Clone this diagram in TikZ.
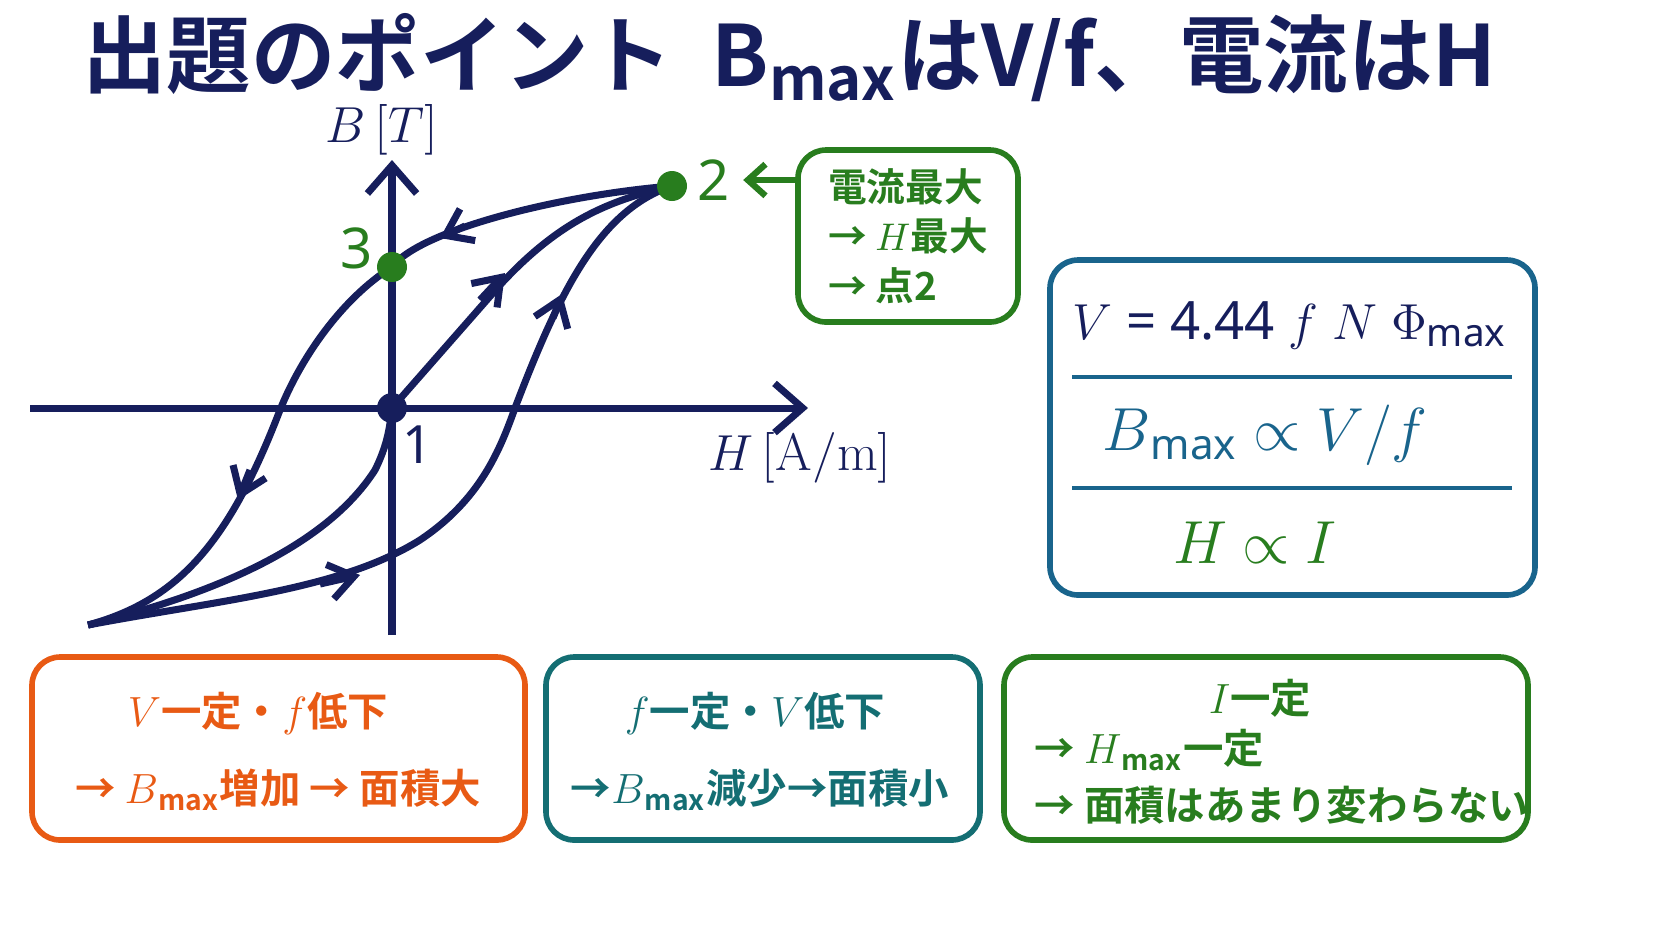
\documentclass[tikz,border=0pt]{standalone}
\usepackage{fontspec}
\newfontfamily\cjk{Noto Sans CJK JP}[BoldFont={* Bold}]
\setsansfont{Noto Sans}
\usetikzlibrary{arrows.meta,positioning,fit}
\definecolor{navy}{RGB}{22,30,92}
\definecolor{dgreen}{RGB}{40,125,30}
\definecolor{myorange}{RGB}{232,90,20}
\definecolor{myteal}{RGB}{20,110,115}
\definecolor{myblue}{RGB}{25,100,140}
\tikzset{
  curve/.style={navy, line width=2pt},
  box/.style={draw, line width=1.6pt, rounded corners=8pt, inner sep=0pt},
  tip/.style={-{Straight Barb[length=7pt,width=10pt]}, navy, line width=2pt},
  jp/.style={font=\cjk\bfseries\fontsize{11.5}{14}\selectfont, align=center},
}
\begin{document}
\begin{tikzpicture}[x=0.01cm,y=-0.01cm]
\useasboundingbox (0,0) rectangle (1672,941);
% title
\node[navy, font=\cjk\bfseries\fontsize{24}{28}\selectfont, anchor=west] (title) at (70,58)
  {出題のポイント\ \ B\textsubscript{\fontsize{17}{17}\selectfont max}はV/f、電流はH};
% axes
\coordinate (o) at (392,408);
\coordinate (xl) at (30,408);
\coordinate (xr) at (808,408);
\coordinate (yb) at (392,635);
\coordinate (yt) at (392,160);
\draw[curve, -{Straight Barb[length=8pt,width=14pt]}] (xl) -- (xr);
\draw[curve, -{Straight Barb[length=8pt,width=14pt]}] (yb) -- (yt);
\node[navy, font=\fontsize{15}{15}\selectfont] (blab) at (382,130) {$B\,[T]$};
\node[navy, font=\fontsize{15}{15}\selectfont] (hlab) at (800,458) {$H\,[\mathrm{A/m}]$};
% points
\coordinate (p2) at (672,186);
\coordinate (p3) at (392,267);
\coordinate (pb) at (88,625);
% loop
\draw[curve] (p2) .. controls (560,195) and (420,230) .. (p3)
  .. controls (340,300) and (300,360) .. (280,410)
  .. controls (230,540) and (180,600) .. (pb);
\draw[curve] (pb) .. controls (220,600) and (340,590) .. (420,540)
  .. controls (480,500) and (500,450) .. (515,408)
  .. controls (560,290) and (600,210) .. (p2);
\draw[curve] (pb) .. controls (230,590) and (330,540) .. (375,470)
  .. controls (390,440) and (390,420) .. (o)
  -- (500,285) .. controls (560,220) and (610,200) .. (p2);
% direction arrows
\draw[tip] (465,226) -- (440,238);
\draw[tip] (250,470) -- (238,500);
\draw[tip] (320,584) -- (360,575);
\draw[tip] (480,300) -- (505,273);
\draw[tip] (553,318) -- (562,294);
\fill[dgreen] (p2) circle (15);
\fill[dgreen] (p3) circle (15);
\fill[navy] (o) circle (15);
\node[dgreen, font=\sffamily\bfseries\fontsize{16}{16}\selectfont] (n2) at (714,180) {2};
\node[dgreen, font=\sffamily\bfseries\fontsize{16}{16}\selectfont] (n3) at (357,248) {3};
\node[navy, font=\sffamily\bfseries\fontsize{15}{15}\selectfont] (n1) at (418,445) {1};
% current box
\node[box, dgreen, fit={(798,150) (1018,322)}] (cbox) {};
\node[dgreen, font=\cjk\bfseries\fontsize{11}{14}\selectfont, align=left] (ctext) at (cbox.center)
  {電流最大\\ → $H$最大\\ → 点2};
\draw[dgreen, line width=1.8pt, -{Straight Barb[length=5pt,width=9pt]}] (cbox.west |- n2) -- ++(-52,0) coordinate (cend);
% formula box
\node[box, myblue, fit={(1050,260) (1535,595)}] (fbox) {};
\draw[myblue, line width=1.3pt] (1072,377) -- (1512,377);
\draw[myblue, line width=1.3pt] (1072,488) -- (1512,488);
\node[navy, font=\sffamily\bfseries\fontsize{15}{15}\selectfont] (f1) at (1290,325)
  {$V$ = 4.44 $f$ $N$ $\Phi$\textsubscript{\fontsize{11}{11}\selectfont max}};
\node[myblue, font=\sffamily\bfseries\fontsize{17}{17}\selectfont] (f2) at (1265,435)
  {$B$\textsubscript{\fontsize{12}{12}\selectfont max} $\propto$ $V/f$};
\node[dgreen, font=\sffamily\bfseries\fontsize{17}{17}\selectfont] (f3) at (1255,543)
  {$H$ $\propto$ $I$};
% bottom boxes
\node[box, myorange, fit={(32,657) (525,840)}] (obox) {};
\node[myorange, jp] (o1) at (258,713) {$V$一定・$f$低下};
\node[myorange, jp] (o2) at (278,790) {→ $B$\textsubscript{max}増加 → 面積大};
\node[box, myteal, fit={(546,657) (980,840)}] (tbox) {};
\node[myteal, jp] (t1) at (755,713) {$f$一定・$V$低下};
\node[myteal, jp] (t2) at (760,790) {→$B$\textsubscript{max}減少→面積小};
\node[box, dgreen, fit={(1004,657) (1528,840)}] (gbox) {};
\node[dgreen, jp] (g1) at (1260,698) {$I$一定};
\node[dgreen, jp, anchor=west] (g2) at (1022,750) {→ $H$\textsubscript{max}一定};
\node[dgreen, jp, anchor=west] (g3) at (1022,805) {→ 面積はあまり変わらない};
\end{tikzpicture}
\end{document}
